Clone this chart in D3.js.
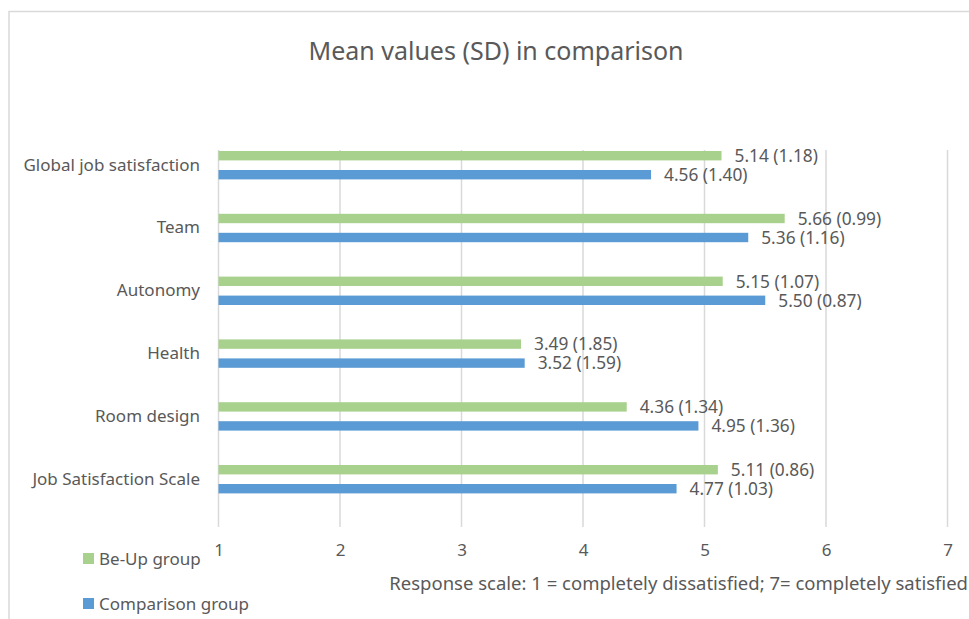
<!DOCTYPE html>
<html>
<head>
<meta charset="utf-8">
<script src="https://cdn.jsdelivr.net/npm/d3@7"></script>
<style>
  html, body { margin: 0; padding: 0; background: #ffffff; }
  svg { display: block; font-family: "Noto Sans", "Open Sans", sans-serif; }
</style>
</head>
<body>
<svg id="chart" width="969" height="619"></svg>
<script>
// Mean satisfaction scores with standard deviations, per dimension
const categories = ["Global job satisfaction", "Team", "Autonomy", "Health", "Room design", "Job Satisfaction Scale"];
const groups = ["Be-Up group", "Comparison group"];
const beUpMeans = [5.14, 5.66, 5.15, 3.49, 4.36, 5.11];
const beUpSD = [1.18, 0.99, 1.07, 1.85, 1.34, 0.86];
const comparisonMeans = [4.56, 5.36, 5.50, 3.52, 4.95, 4.77];
const comparisonSD = [1.40, 1.16, 0.87, 1.59, 1.36, 1.03];
const xTicks = [1, 2, 3, 4, 5, 6, 7];
const titleText = "Mean values (SD) in comparison";
const axisTitle = "Response scale: 1 = completely dissatisfied; 7= completely satisfied";

const colors = { "Be-Up group": "#A9D18E", "Comparison group": "#5B9BD5" };
const textColor = "#595959";
const gridColor = "#d9d9d9";

const rows = categories.map((c, i) => ({
  category: c,
  bars: [
    { group: groups[0], mean: beUpMeans[i], sd: beUpSD[i] },
    { group: groups[1], mean: comparisonMeans[i], sd: comparisonSD[i] }
  ]
}));

const svg = d3.select("#chart");

// Chart frame
svg.append("rect")
  .attr("x", 9).attr("y", 11.5)
  .attr("width", 980).attr("height", 640)
  .attr("fill", "none")
  .attr("stroke", gridColor)
  .attr("stroke-width", 1.5);

// Title
svg.append("text")
  .attr("x", 496).attr("y", 59.5)
  .attr("text-anchor", "middle")
  .attr("fill", textColor)
  .attr("font-size", 25)
  .text(titleText);

// Scales
const x = d3.scaleLinear().domain([1, 7]).range([218.5, 947.5]);
const gridTop = 150, gridBottom = 527;
const y = d3.scaleBand().domain(categories).range([133.8, 510.6]).paddingInner(0).paddingOuter(0);
const groupSpan = 28.4;
const yInner = d3.scaleBand().domain(groups).range([0, groupSpan]).paddingInner(0.505).paddingOuter(0);

// Vertical gridlines
svg.append("g")
  .selectAll("line")
  .data(xTicks)
  .join("line")
  .attr("x1", d => x(d)).attr("x2", d => x(d))
  .attr("y1", gridTop).attr("y2", gridBottom)
  .attr("stroke", gridColor)
  .attr("stroke-width", 1.5);

// X axis tick labels
const xAxis = d3.axisBottom(x).tickValues(xTicks).tickSize(0).tickPadding(0).tickFormat(d3.format("d"));
const xAxisG = svg.append("g")
  .attr("transform", `translate(0, ${gridBottom + 17})`)
  .call(xAxis);
xAxisG.select(".domain").remove();
xAxisG.selectAll("text")
  .attr("fill", textColor)
  .attr("font-size", 17)
  .attr("font-family", "Noto Sans, sans-serif");

// Y axis category labels
const yAxis = d3.axisLeft(y).tickSize(0).tickPadding(0);
const yAxisG = svg.append("g")
  .attr("transform", "translate(200, 0)")
  .call(yAxis);
yAxisG.select(".domain").remove();
yAxisG.selectAll("text")
  .attr("fill", textColor)
  .attr("font-size", 17)
  .attr("font-family", "Noto Sans, sans-serif");

// Bars and value labels
const rowG = svg.append("g")
  .selectAll("g")
  .data(rows)
  .join("g")
  .attr("transform", d => `translate(0, ${y(d.category) + y.bandwidth() / 2 - groupSpan / 2})`);

rowG.selectAll("rect")
  .data(d => d.bars)
  .join("rect")
  .attr("x", x(1))
  .attr("y", d => yInner(d.group))
  .attr("width", d => x(d.mean) - x(1))
  .attr("height", yInner.bandwidth())
  .attr("fill", d => colors[d.group]);

rowG.selectAll("text")
  .data(d => d.bars)
  .join("text")
  .attr("x", d => x(d.mean) + 13)
  .attr("y", d => yInner(d.group) + yInner.bandwidth() / 2)
  .attr("dy", "0.36em")
  .attr("fill", textColor)
  .attr("font-size", 17.3)
  .text(d => `${d.mean.toFixed(2)} (${d.sd.toFixed(2)})`);

// Axis title
svg.append("text")
  .attr("x", 968).attr("y", 590)
  .attr("text-anchor", "end")
  .attr("fill", textColor)
  .attr("font-size", 18.5)
  .text(axisTitle);

// Legend
const legend = svg.append("g")
  .selectAll("g")
  .data(groups)
  .join("g")
  .attr("transform", (d, i) => `translate(83, ${553 + i * 45})`);
legend.append("rect")
  .attr("width", 11).attr("height", 11)
  .attr("fill", d => colors[d]);
legend.append("text")
  .attr("x", 16).attr("y", 5.5)
  .attr("dy", "0.36em")
  .attr("fill", textColor)
  .attr("font-size", 17)
  .text(d => d);
</script>
</body>
</html>
